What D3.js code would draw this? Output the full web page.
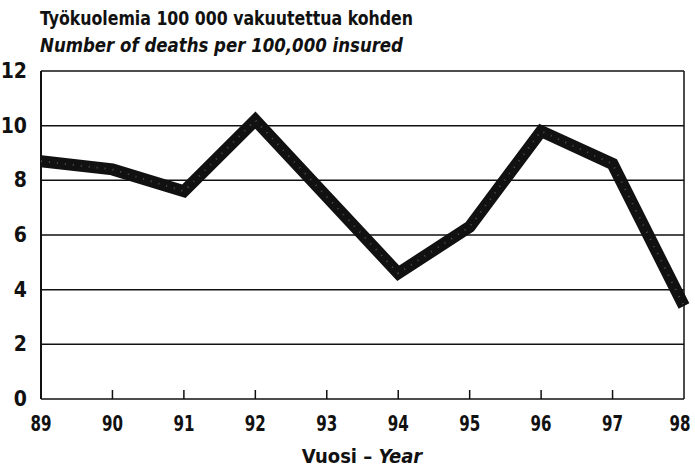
<!doctype html>
<html>
<head>
<meta charset="utf-8">
<style>
  body { margin: 0; background: #fff; }
  text { font-family: "DejaVu Sans Condensed", "Liberation Sans Narrow", sans-serif; font-weight: bold; fill: #111; }
</style>
</head>
<body>
<script src="https://cdn.jsdelivr.net/npm/d3@7"></script>
<script>
// data
var years = [89, 90, 91, 92, 93, 94, 95, 96, 97, 98];
var deaths = [8.7, 8.4, 7.6, 10.2, 7.4, 4.6, 6.3, 9.8, 8.6, 3.4];
var yTicks = [0, 2, 4, 6, 8, 10, 12];

var w = 695, h = 470;
var margin = { left: 41, right: 11, top: 71, bottom: 71 };

var svg = d3.select("body").append("svg")
    .attr("width", w)
    .attr("height", h);

var x = d3.scaleLinear().domain([89, 98]).range([margin.left, w - margin.right]);
var y = d3.scaleLinear().domain([0, 12]).range([h - margin.bottom, margin.top]);

// titles
svg.append("text").attr("x", 40).attr("y", 25).attr("font-size", 19)
    .attr("textLength", 373).attr("lengthAdjust", "spacingAndGlyphs")
    .text("Työkuolemia 100 000 vakuutettua kohden");
svg.append("text").attr("x", 40).attr("y", 52).attr("font-size", 19)
    .attr("font-style", "italic")
    .attr("textLength", 363).attr("lengthAdjust", "spacingAndGlyphs")
    .text("Number of deaths per 100,000 insured");

// gridlines
svg.append("g").selectAll("line")
    .data(yTicks)
    .enter().append("line")
    .attr("x1", x(89)).attr("x2", x(98))
    .attr("y1", function (d) { return y(d); })
    .attr("y2", function (d) { return y(d); })
    .attr("stroke", "#111").attr("stroke-width", 1.5);

// frame sides
svg.append("line").attr("x1", x(89)).attr("x2", x(89)).attr("y1", y(0)).attr("y2", y(12))
    .attr("stroke", "#111").attr("stroke-width", 2);
svg.append("line").attr("x1", x(98)).attr("x2", x(98)).attr("y1", y(0)).attr("y2", y(12))
    .attr("stroke", "#111").attr("stroke-width", 1.5);

// x ticks (upward)
svg.append("g").selectAll("line")
    .data(years.slice(1, -1))
    .enter().append("line")
    .attr("x1", function (d) { return x(d); })
    .attr("x2", function (d) { return x(d); })
    .attr("y1", y(0)).attr("y2", y(0) - 9)
    .attr("stroke", "#111").attr("stroke-width", 1.5);

// y labels
svg.append("g").selectAll("text")
    .data(yTicks)
    .enter().append("text")
    .attr("x", 27)
    .attr("y", function (d) { return y(d) + 7; })
    .attr("text-anchor", "end")
    .attr("font-size", 21)
    .text(function (d) { return d; });

// x labels (last one pulled in so it stays inside the window)
svg.append("g").selectAll("text")
    .data(years)
    .enter().append("text")
    .attr("x", function (d) { return Math.min(x(d), w - 15); })
    .attr("y", 431)
    .attr("text-anchor", "middle")
    .attr("font-size", 21)
    .attr("textLength", 21).attr("lengthAdjust", "spacingAndGlyphs")
    .text(function (d) { return d; });

// x axis title
var xt = svg.append("text").attr("x", 362).attr("y", 463)
    .attr("text-anchor", "middle").attr("font-size", 20);
xt.append("tspan").text("Vuosi – ");
xt.append("tspan").attr("font-style", "italic").text("Year");

// line
var line = d3.line()
    .x(function (d, i) { return x(years[i]); })
    .y(function (d) { return y(d); });

svg.append("path")
    .datum(deaths)
    .attr("d", line)
    .attr("fill", "none")
    .attr("stroke", "#111")
    .attr("stroke-width", 12)
    .attr("stroke-linejoin", "miter");

// speckled core
svg.append("path")
    .datum(deaths)
    .attr("d", line)
    .attr("fill", "none")
    .attr("stroke", "#777")
    .attr("stroke-width", 2)
    .attr("stroke-dasharray", "1 7")
    .attr("opacity", 0.6);
</script>
</body>
</html>
